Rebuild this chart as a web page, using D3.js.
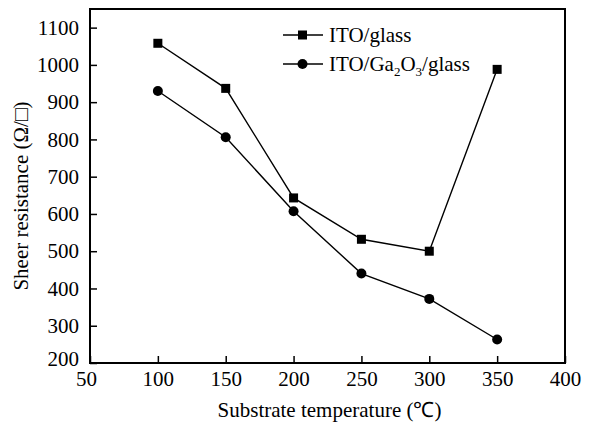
<!DOCTYPE html>
<html>
<head>
<meta charset="utf-8">
<script src="https://cdn.jsdelivr.net/npm/d3@7"></script>
<style>
  body { margin: 0; background: #fff; }
  text { font-family: "Liberation Serif", "Times New Roman", serif; fill: #000; }
</style>
</head>
<body>
<div id="chart"></div>
<script>
// data
var temps = [100, 150, 200, 250, 300, 350];
var itoGlass = [1058, 937, 643, 532, 500, 988];
var itoGaGlass = [930, 806, 607, 440, 372, 263];
var xTicks = [50, 100, 150, 200, 250, 300, 350, 400];
var yTicks = [200, 300, 400, 500, 600, 700, 800, 900, 1000, 1100];

var svgWidth = 591, svgHeight = 425;
var plotLeft = 90, plotTop = 9, plotRight = 565, plotBottom = 363;

var svg = d3.select("#chart").append("svg")
  .attr("width", svgWidth)
  .attr("height", svgHeight);

var x = d3.scaleLinear().domain([50, 400]).range([plotLeft, plotRight]);
var y = d3.scaleLinear().domain([200, 1150]).range([plotBottom, plotTop]);

// axes, ticks pointing inward
var xAxis = svg.append("g")
  .attr("transform", "translate(0," + plotBottom + ")")
  .call(d3.axisBottom(x).tickValues(xTicks).tickFormat(d3.format("d"))
    .tickSizeInner(-7).tickSizeOuter(0).tickPadding(4));
var yAxis = svg.append("g")
  .attr("transform", "translate(" + plotLeft + ",0)")
  .call(d3.axisLeft(y).tickValues(yTicks).tickFormat(d3.format("d"))
    .tickSizeInner(-7).tickSizeOuter(0).tickPadding(11));

[xAxis, yAxis].forEach(function(g) {
  g.select(".domain").remove();
  g.selectAll(".tick line").attr("stroke", "#000").attr("stroke-width", 1.5);
  g.selectAll(".tick text")
    .style("font-family", "'Liberation Serif', serif")
    .style("font-size", "21px")
    .attr("fill", "#000");
});
xAxis.selectAll(".tick text").attr("dy", "0.9em");
xAxis.selectAll(".tick text").filter(function(d) { return d === 50; }).attr("dx", -4);
yAxis.selectAll(".tick text").filter(function(d) { return d === 200; }).attr("dy", "0.1em");

// frame
svg.append("rect")
  .attr("x", plotLeft).attr("y", plotTop)
  .attr("width", plotRight - plotLeft).attr("height", plotBottom - plotTop)
  .attr("fill", "none").attr("stroke", "#000").attr("stroke-width", 2);

var line = d3.line()
  .x(function(d, i) { return x(temps[i]); })
  .y(function(d) { return y(d); });

// ITO/glass: squares
svg.append("path").datum(itoGlass)
  .attr("d", line).attr("fill", "none").attr("stroke", "#000").attr("stroke-width", 1.4);
svg.selectAll("rect.sq").data(itoGlass).enter().append("rect")
  .attr("class", "sq")
  .attr("x", function(d, i) { return x(temps[i]) - 4.5; })
  .attr("y", function(d) { return y(d) - 4.5; })
  .attr("width", 9).attr("height", 9)
  .attr("fill", "#000");

// ITO/Ga2O3/glass: circles
svg.append("path").datum(itoGaGlass)
  .attr("d", line).attr("fill", "none").attr("stroke", "#000").attr("stroke-width", 1.4);
svg.selectAll("circle.dot").data(itoGaGlass).enter().append("circle")
  .attr("class", "dot")
  .attr("cx", function(d, i) { return x(temps[i]); })
  .attr("cy", function(d) { return y(d); })
  .attr("r", 5)
  .attr("fill", "#000");

// legend
var lg = svg.append("g");
lg.append("line").attr("x1", 283).attr("x2", 323).attr("y1", 35).attr("y2", 35)
  .attr("stroke", "#000").attr("stroke-width", 1.4);
lg.append("rect").attr("x", 298).attr("y", 30.5).attr("width", 9).attr("height", 9).attr("fill", "#000");
lg.append("text").attr("x", 329).attr("y", 42).style("font-size", "21px").text("ITO/glass");

lg.append("line").attr("x1", 283).attr("x2", 323).attr("y1", 64).attr("y2", 64)
  .attr("stroke", "#000").attr("stroke-width", 1.4);
lg.append("circle").attr("cx", 302.5).attr("cy", 64).attr("r", 5).attr("fill", "#000");
var t2 = lg.append("text").attr("x", 329).attr("y", 71).style("font-size", "21px");
t2.append("tspan").text("ITO/Ga");
t2.append("tspan").attr("dy", 5).style("font-size", "13px").text("2");
t2.append("tspan").attr("dy", -5).text("O");
t2.append("tspan").attr("dy", 5).style("font-size", "13px").text("3");
t2.append("tspan").attr("dy", -5).text("/glass");

// axis titles
svg.append("text")
  .attr("x", (plotLeft + plotRight) / 2 + 2).attr("y", 417)
  .attr("text-anchor", "middle")
  .style("font-size", "21px")
  .text("Substrate temperature (\u2103)");

svg.append("text")
  .attr("transform", "translate(28," + 196 + ") rotate(-90)")
  .attr("text-anchor", "middle")
  .style("font-size", "21px")
  .text("Sheer resistance (\u03A9/\u25A1)");
</script>
</body>
</html>
